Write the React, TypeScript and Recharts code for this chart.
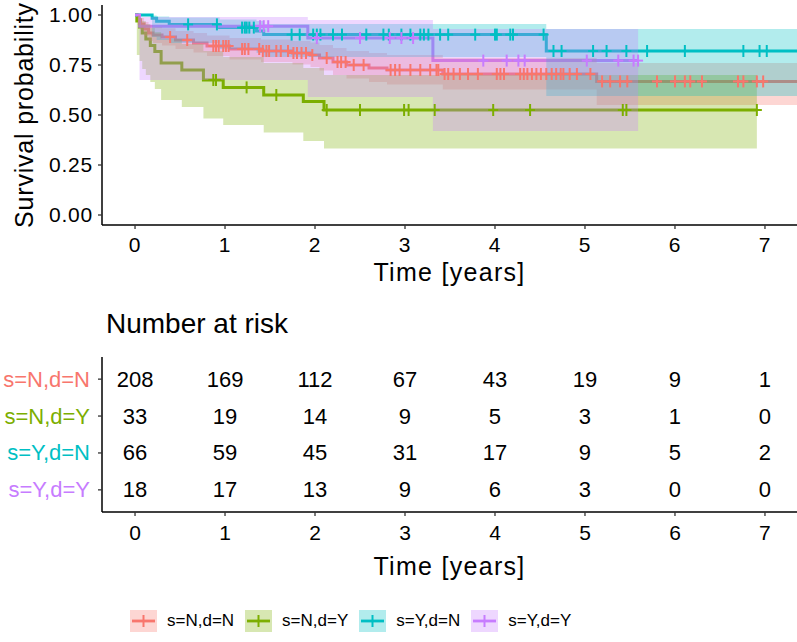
import React from "react";
import { ComposedChart, Line, Area, Scatter, XAxis, YAxis } from "recharts";

const FONT = '"Liberation Sans", Arial, Helvetica, sans-serif';

const groups = ["s=N,d=N", "s=N,d=Y", "s=Y,d=N", "s=Y,d=Y"];
const colors = ["#F8766D", "#7CAE00", "#00BFC4", "#C77CFF"];
const timeTicks = [0, 1, 2, 3, 4, 5, 6, 7];
const survTicks = [0, 0.25, 0.5, 0.75, 1];

// s=N,d=N
const nnTime = [0, 0.03, 0.06, 0.1, 0.15, 0.2, 0.3, 0.45, 0.65, 0.8, 1.05, 1.4, 1.75, 1.95, 2.05, 2.2, 2.35, 2.6, 2.8, 3.42, 5.13, 7.5];
const nnSurv = [1, 0.975, 0.955, 0.93, 0.91, 0.9, 0.89, 0.875, 0.86, 0.845, 0.83, 0.82, 0.81, 0.8, 0.785, 0.765, 0.75, 0.735, 0.725, 0.705, 0.668, 0.668];
const nnLower = [1, 0.95, 0.925, 0.895, 0.87, 0.86, 0.848, 0.83, 0.813, 0.795, 0.778, 0.765, 0.752, 0.74, 0.722, 0.7, 0.683, 0.665, 0.652, 0.628, 0.55, 0.55];
const nnUpper = [1, 1, 0.985, 0.965, 0.95, 0.94, 0.934, 0.92, 0.91, 0.897, 0.885, 0.878, 0.87, 0.862, 0.85, 0.835, 0.82, 0.81, 0.8, 0.785, 0.76, 0.76];
const nnCensor = [0.39, 0.58, 0.87, 0.9, 0.93, 0.98, 1.01, 1.04, 1.19, 1.22, 1.26, 1.38, 1.42, 1.46, 1.49, 1.57, 1.62, 1.7, 1.76, 1.8, 1.85, 1.9, 1.97, 2.13, 2.25, 2.29, 2.34, 2.43, 2.54, 2.84, 2.89, 2.94, 3.06, 3.17, 3.28, 3.35, 3.37, 3.44, 3.48, 3.54, 3.61, 3.7, 3.81, 4.02, 4.06, 4.1, 4.28, 4.32, 4.36, 4.41, 4.46, 4.51, 4.57, 4.63, 4.68, 4.73, 4.76, 4.83, 4.91, 5.06, 5.19, 5.28, 5.39, 5.47, 5.8, 6.0, 6.11, 6.17, 6.3, 6.7, 6.76, 6.91, 6.98];
const nnRisk = [208, 169, 112, 67, 43, 19, 9, 1];

// s=N,d=Y
const nyTime = [0, 0.02, 0.05, 0.08, 0.12, 0.17, 0.22, 0.29, 0.52, 0.76, 0.98, 1.43, 1.87, 2.1, 6.91];
const nySurv = [1, 0.97, 0.94, 0.91, 0.88, 0.848, 0.818, 0.76, 0.725, 0.675, 0.638, 0.6, 0.567, 0.525, 0.525];
const nyLower = [1, 0.8, 0.77, 0.73, 0.7, 0.665, 0.63, 0.575, 0.54, 0.483, 0.45, 0.412, 0.37, 0.333, 0.333];
const nyUpper = [1, 0.995, 0.985, 0.97, 0.955, 0.935, 0.915, 0.88, 0.855, 0.82, 0.79, 0.76, 0.735, 0.7, 0.7];
const nyCensor = [0.87, 0.9, 1.24, 1.57, 2.13, 2.5, 2.99, 3.04, 3.33, 3.98, 4.39, 5.42, 5.46, 6.91];
const nyRisk = [33, 19, 14, 9, 5, 3, 1, 0];

// s=Y,d=N
const ynTime = [0, 0.19, 0.24, 0.38, 0.94, 1.35, 1.43, 4.57, 7.5];
const ynSurv = [1, 0.984, 0.969, 0.953, 0.937, 0.92, 0.902, 0.82, 0.82];
const ynLower = [1, 0.89, 0.875, 0.86, 0.83, 0.81, 0.79, 0.595, 0.595];
const ynUpper = [1, 0.998, 0.993, 0.987, 0.977, 0.97, 0.955, 0.93, 0.93];
const ynCensor = [0.59, 0.91, 1.19, 1.22, 1.24, 1.27, 1.32, 1.74, 1.83, 1.98, 2.02, 2.06, 2.2, 2.3, 2.57, 2.76, 2.82, 2.96, 3.06, 3.17, 3.21, 3.26, 3.39, 3.48, 3.78, 4.0, 4.02, 4.17, 4.2, 4.54, 4.65, 4.74, 5.09, 5.24, 5.46, 5.69, 6.11, 6.76, 6.94, 7.02];
const ynRisk = [66, 59, 45, 31, 17, 9, 5, 2];

// s=Y,d=Y
const yyTime = [0, 0.05, 1.92, 3.31, 5.59];
const yySurv = [1, 0.944, 0.885, 0.772, 0.772];
const yyLower = [1, 0.675, 0.59, 0.42, 0.42];
const yyUpper = [1, 0.99, 0.975, 0.93, 0.93];
const yyCensor = [1.39, 1.43, 1.48, 2.02, 2.5, 2.83, 2.96, 3.09, 3.87, 4.13, 4.26, 4.33, 5.02, 5.37, 5.54, 5.59];
const yyRisk = [18, 17, 13, 9, 6, 3, 0, 0];

const X_DOMAIN: [number, number] = [-0.367, 7.356];

const survAt = (times: number[], surv: number[], t: number) => {
  let v = surv[0];
  times.forEach((tt, i) => {
    if (tt <= t) v = surv[i];
  });
  return v;
};

const makeGroup = (time: number[], surv: number[], lower: number[], upper: number[], censor: number[], risk: number[]) => ({
  curve: time.map((t, i) => ({ t, s: surv[i], ci: [lower[i], upper[i]] })),
  marks: censor.map((t) => ({ t, s: survAt(time, surv, t) })),
  risk: risk,
});

const series = [
  makeGroup(nnTime, nnSurv, nnLower, nnUpper, nnCensor, nnRisk),
  makeGroup(nyTime, nySurv, nyLower, nyUpper, nyCensor, nyRisk),
  makeGroup(ynTime, ynSurv, ynLower, ynUpper, ynCensor, ynRisk),
  makeGroup(yyTime, yySurv, yyLower, yyUpper, yyCensor, yyRisk),
];

const CensorMark = (props: any) => {
  const { cx, cy, color } = props;
  if (cx == null || cy == null) return null;
  return (
    <g>
      <line x1={cx - 5} x2={cx + 5} y1={cy} y2={cy} stroke={color} strokeWidth={2} />
      <line x1={cx} x2={cx} y1={cy - 6} y2={cy + 6} stroke={color} strokeWidth={2} />
    </g>
  );
};

const axisLine = { stroke: "#000", strokeWidth: 1.5 };
const tickLine = { stroke: "#333", strokeWidth: 1.3 };

const SurvivalPlot = () => (
  <ComposedChart width={797} height={300} margin={{ top: 5, right: 0, bottom: 0, left: 0 }} style={{ fontFamily: FONT }}>
    <XAxis
      type="number"
      dataKey="t"
      domain={X_DOMAIN}
      allowDataOverflow
      ticks={timeTicks}
      interval={0}
      height={75}
      tickSize={4}
      tickMargin={8}
      axisLine={axisLine}
      tickLine={tickLine}
      tick={{ fill: "#000", fontSize: 21, letterSpacing: 0.8 }}
      label={() => (
        <text x={449.5} y={281} textAnchor="middle" fontSize={25} letterSpacing={1.3} fill="#000">
          Time [years]
        </text>
      )}
    />
    <YAxis
      type="number"
      domain={[-0.05, 1.05]}
      allowDataOverflow
      ticks={survTicks}
      interval={0}
      width={102}
      tickSize={4}
      tickMargin={5}
      tickFormatter={(v: number) => v.toFixed(2)}
      axisLine={axisLine}
      tickLine={tickLine}
      tick={{ fill: "#000", fontSize: 21, letterSpacing: 0.8 }}
      label={() => (
        <text x={33} y={115} transform="rotate(-90 33 115)" textAnchor="middle" fontSize={25} letterSpacing={0.8} fill="#000">
          Survival probability
        </text>
      )}
    />
    {series.map((g, i) => (
      <Line
        key={`line-${i}`}
        data={g.curve}
        dataKey="s"
        type="stepAfter"
        stroke={colors[i]}
        strokeWidth={3}
        dot={false}
        activeDot={false}
        isAnimationActive={false}
      />
    ))}
    {series.map((g, i) => (
      <Area
        key={`band-${i}`}
        data={g.curve}
        dataKey="ci"
        type="stepAfter"
        stroke="none"
        fill={colors[i]}
        fillOpacity={0.3}
        activeDot={false}
        isAnimationActive={false}
        zIndex={450}
      />
    ))}
    {series.map((g, i) => (
      <Scatter
        key={`cens-${i}`}
        data={g.marks}
        dataKey="s"
        shape={(p: any) => <CensorMark {...p} color={colors[i]} />}
        isAnimationActive={false}
      />
    ))}
  </ComposedChart>
);

const RiskTable = () => (
  <ComposedChart width={797} height={300} margin={{ top: 57, right: 0, bottom: 0, left: 0 }} style={{ fontFamily: FONT }}>
    <XAxis
      type="number"
      dataKey="t"
      domain={X_DOMAIN}
      allowDataOverflow
      ticks={timeTicks}
      interval={0}
      height={88}
      tickSize={4}
      tickMargin={9}
      axisLine={axisLine}
      tickLine={tickLine}
      tick={{ fill: "#000", fontSize: 21 }}
      label={() => (
        <text x={449.5} y={275} textAnchor="middle" fontSize={25} letterSpacing={1.3} fill="#000">
          Time [years]
        </text>
      )}
    />
    <YAxis
      type="number"
      domain={[-0.6, 3.6]}
      ticks={[0, 1, 2, 3]}
      interval={0}
      width={102}
      tickSize={4}
      tickMargin={8}
      axisLine={axisLine}
      tickLine={tickLine}
      tick={(p: any) => (
        <text x={p.x} y={p.y} textAnchor="end" dominantBaseline="central" fontSize={22} fill={colors[3 - p.payload.value]}>
          {groups[3 - p.payload.value]}
        </text>
      )}
    />
    {series.map((g, i) => (
      <Scatter
        key={`risk-${i}`}
        data={timeTicks.map((t, k) => ({ t, row: 3 - i, n: g.risk[k] }))}
        dataKey="row"
        isAnimationActive={false}
        shape={(p: any) => (
          <text x={p.cx} y={p.cy} textAnchor="middle" dominantBaseline="central" fontSize={22} fill="#000">
            {p.payload.n}
          </text>
        )}
      />
    ))}
  </ComposedChart>
);

const LegendKey = ({ color }: { color: string }) => (
  <svg width={27} height={22} style={{ display: "block" }}>
    <rect x={0} y={0} width={27} height={22} fill={color} fillOpacity={0.3} />
    <line x1={2} x2={25} y1={11} y2={11} stroke={color} strokeWidth={2.8} />
    <line x1={13.5} x2={13.5} y1={5} y2={17} stroke={color} strokeWidth={2} />
  </svg>
);

export default function App() {
  return (
    <div style={{ position: "absolute", left: 0, top: 0, width: 797, height: 642, background: "#fff", fontFamily: FONT, overflow: "hidden" }}>
      <div style={{ position: "absolute", left: 0, top: 0 }}>
        <SurvivalPlot />
      </div>
      <div style={{ position: "absolute", left: 0, top: 300 }}>
        <RiskTable />
      </div>
      <div style={{ position: "absolute", left: 106, top: 308, fontSize: 28, lineHeight: "32px", color: "#000" }}>
        Number at risk
      </div>
      <div style={{ position: "absolute", left: 130, top: 610, display: "flex", alignItems: "center", fontSize: 17, color: "#000" }}>
        {groups.map((name, i) => (
          <div key={name} style={{ display: "flex", alignItems: "center", marginRight: 11 }}>
            <LegendKey color={colors[i]} />
            <span style={{ marginLeft: 10, lineHeight: "22px" }}>{name}</span>
          </div>
        ))}
      </div>
    </div>
  );
}
